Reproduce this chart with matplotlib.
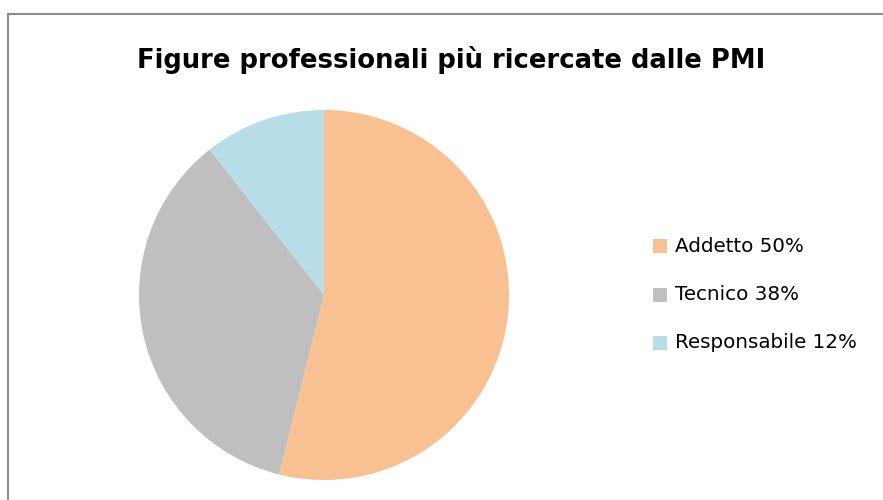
import matplotlib
matplotlib.use("Agg")
import matplotlib.pyplot as plt
from matplotlib.patches import Rectangle
from matplotlib.lines import Line2D

title = "Figure professionali più ricercate dalle PMI"
categories = ["Addetto 50%", "Tecnico 38%", "Responsabile 12%"]
values = [53.9, 35.5, 10.6]
colors = ["#F9C191", "#BFBFBF", "#B7DDE8"]

W, H = 883, 500
fig = plt.figure(figsize=(W / 100, H / 100), dpi=100)

# frame (cropped chart border)
fig.add_artist(Line2D([8 / W, 8 / W], [0, 1 - 13.5 / H], color="#8C8C8C", lw=1.5, transform=fig.transFigure))
fig.add_artist(Line2D([8 / W, 1], [1 - 13.5 / H, 1 - 13.5 / H], color="#8C8C8C", lw=1.5, transform=fig.transFigure))

cx, cy, r = 324, 295, 185
ax = fig.add_axes([(cx - r) / W, 1 - (cy + r) / H, 2 * r / W, 2 * r / H])
ax.pie(values, colors=colors, startangle=90, counterclock=False,
       wedgeprops=dict(linewidth=0))
ax.set_aspect("equal")
ax.set_xlim(-1, 1)
ax.set_ylim(-1, 1)
ax.axis("off")

fig.text(451.5 / W, 1 - 60 / H, title, ha="center", va="center",
         fontsize=18.6, fontweight="bold", family="DejaVu Sans", color="#000000")

rows_y = [246, 295, 343]
for lab, col, y in zip(categories, colors, rows_y):
    fig.add_artist(Rectangle((653 / W, 1 - (y + 7) / H), 14 / W, 14 / H,
                             facecolor=col, edgecolor="none", transform=fig.transFigure))
    fig.text(675 / W, 1 - y / H, lab, ha="left", va="center", fontsize=14.3,
             family="DejaVu Sans", color="#000000")

fig.savefig("out.png", dpi=100)
